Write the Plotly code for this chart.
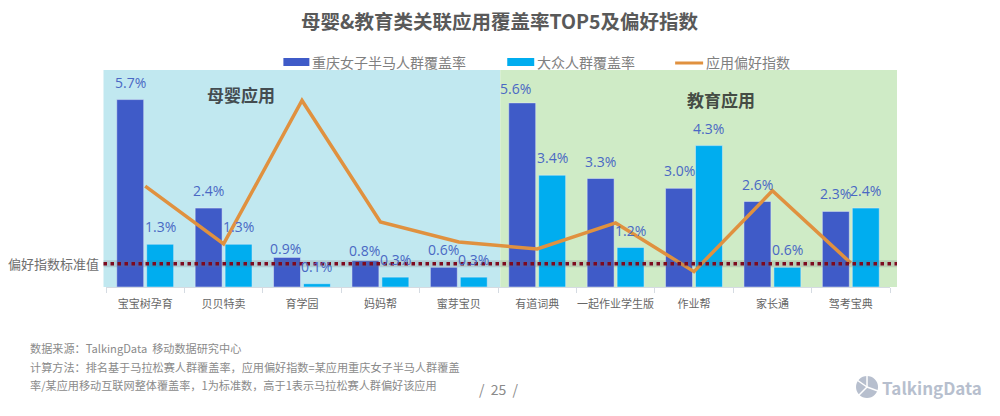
import plotly.graph_objects as go

# values
categories = ['宝宝树孕育', '贝贝特卖', '育学园', '妈妈帮', '蜜芽宝贝',
              '有道词典', '一起作业学生版', '作业帮', '家长通', '驾考宝典']
women_cover = [5.7, 2.4, 0.9, 0.8, 0.6, 5.6, 3.3, 3.0, 2.6, 2.3]
public_cover = [1.3, 1.3, 0.1, 0.3, 0.3, 3.4, 1.2, 4.3, 0.6, 2.4]
pref_index = [4.33, 1.85, 8.0, 2.79, 1.93, 1.63, 2.75, 0.66, 4.13, 1.03]
standard_value = 1
series_names = ['重庆女子半马人群覆盖率', '大众人群覆盖率', '应用偏好指数']
title_text = '母婴&教育类关联应用覆盖率TOP5及偏好指数'
footer_lines = ['数据来源：TalkingData  移动数据研究中心',
                '计算方法：排名基于马拉松赛人群覆盖率，应用偏好指数=某应用重庆女子半马人群覆盖',
                '率/某应用移动互联网整体覆盖率，1为标准数，高于1表示马拉松赛人群偏好该应用']

FONT = 'Noto Sans CJK SC'
LEFT, RIGHT, TOP, BOTTOM = 105.5, 890, 70, 287
W, H = 1000, 416
SLOT = (RIGHT - LEFT) / len(categories) * 0.382
BLUE, CYAN, ORANGE = '#3f5bc8', '#00adef', '#e0913f'


# pixel position to paper coordinates
def px(x):
    return (x - LEFT) / (RIGHT - LEFT)


def py(y):
    return (BOTTOM - y) / (BOTTOM - TOP)


fig = go.Figure()
fig.add_trace(go.Bar(x=categories, y=women_cover, name=series_names[0], marker_color=BLUE))
fig.add_trace(go.Bar(x=categories, y=public_cover, name=series_names[1], marker_color=CYAN))
fig.add_trace(go.Scatter(x=categories, y=pref_index, name=series_names[2], yaxis='y2', mode='lines',
                         line=dict(color=ORANGE, width=3.5)))

# background panels
fig.add_shape(type='rect', xref='paper', yref='paper', x0=px(103), x1=px(500), y0=0, y1=1,
              fillcolor='#c1e8f0', line_width=0, layer='below')
fig.add_shape(type='rect', xref='paper', yref='paper', x0=px(500), x1=px(897), y0=0, y1=1,
              fillcolor='#cfebc6', line_width=0, layer='below')

# standard value line, with a soft shadow under it
fig.add_shape(type='line', xref='paper', yref='y2', x0=px(103), x1=px(897), y0=standard_value, y1=standard_value,
              line=dict(color='rgba(110,110,120,0.22)', width=7))
fig.add_shape(type='line', xref='paper', yref='y2', x0=px(103), x1=px(897), y0=standard_value, y1=standard_value,
              line=dict(color='#7d0a1e', width=3.5, dash='dot'))


def note(text, x, y, size, color, bold=False, anchor='center'):
    if bold:
        text = f'<b>{text}</b>'
    fig.add_annotation(text=text, xref='paper', yref='paper', x=px(x), y=py(y), showarrow=False,
                       xanchor=anchor, yanchor='middle', font=dict(family=FONT, size=size, color=color))


# data labels, a few were moved in the original so they need a nudge
nudge_women = {2: (-2, -9), 3: (-1, -7), 5: (-7, -3)}
for i, cat in enumerate(categories):
    for vals, side, nudges in ((women_cover, -1, nudge_women), (public_cover, 1, {})):
        dx, dy = nudges.get(i, (0, 0))
        fig.add_annotation(text=f'{vals[i]:.1f}%', x=cat, y=vals[i], xref='x', yref='y', showarrow=False,
                           xshift=side * SLOT / 2 + dx, yshift=17.5 + dy, yanchor='middle',
                           font=dict(family='Open Sans', size=14, color='#4a68c4'))

note(title_text, 500, 21, 19.5, '#595959', bold=True)
note('母婴应用', 241, 94, 17, '#444c50', bold=True)
note('教育应用', 721, 99, 17, '#444c44', bold=True)
note('偏好指数标准值', 5, 263, 13, '#6e6e6e', anchor='left')
note(footer_lines[0], 27.5, 348, 11.15, '#8a8a8a', anchor='left')
note(footer_lines[1], 27.5, 367, 11.15, '#8a8a8a', anchor='left')
note(footer_lines[2], 27.5, 385, 11.15, '#8a8a8a', anchor='left')
note('/  25  /', 499, 389, 14, '#8a8a8a')

# legend, the swatches are wider than what the plotly legend draws
fig.add_shape(type='rect', xref='paper', yref='paper', x0=px(283), x1=px(309), y0=py(66), y1=py(58),
              fillcolor=BLUE, line_width=0)
fig.add_shape(type='rect', xref='paper', yref='paper', x0=px(507), x1=px(534), y0=py(66), y1=py(58),
              fillcolor=CYAN, line_width=0)
fig.add_shape(type='line', xref='paper', yref='paper', x0=px(675), x1=px(703), y0=py(63), y1=py(63),
              line=dict(color=ORANGE, width=3))
note(series_names[0], 310, 62, 14, '#808080', anchor='left')
note(series_names[1], 535, 62, 14, '#808080', anchor='left')
note(series_names[2], 704, 62, 14, '#808080', anchor='left')

# logo
note('TalkingData', 932, 387, 17, '#b7bfce', bold=True)
fig.add_shape(type='circle', xref='paper', yref='paper', x0=px(856), x1=px(878), y0=py(398), y1=py(376),
              fillcolor='#b7bfce', line_width=0)
for x0, y0, x1, y1 in ((867, 387, 867, 375), (867, 387, 878, 391), (867, 387, 858, 396), (867, 387, 857, 380)):
    fig.add_shape(type='line', xref='paper', yref='paper', x0=px(x0), x1=px(x1), y0=py(y0), y1=py(y1),
                  line=dict(color='white', width=1.5))

fig.update_layout(
    width=W, height=H,
    margin=dict(l=LEFT, r=W - RIGHT, t=TOP, b=H - BOTTOM),
    paper_bgcolor='white', plot_bgcolor='rgba(0,0,0,0)',
    barmode='group', bargap=0.236, bargroupgap=0.1,
    font=dict(family=FONT, color='#808080'),
    showlegend=False,
    xaxis=dict(type='category', showline=True, linecolor='#d5dbe2', ticks='outside', tickson='boundaries',
               ticklen=5, tickcolor='#d5dbe2', showgrid=False, zeroline=False, tickangle=0, ticklabelstandoff=7,
               tickfont=dict(family=FONT, size=11, color='#666666')),
    yaxis=dict(range=[0, 6.6], visible=False, showgrid=False, zeroline=False),
    yaxis2=dict(range=[0, 9.31], overlaying='y', visible=False, showgrid=False, zeroline=False),
)

fig.write_html("out.html", config=dict(displayModeBar=False), post_script="document.body.style.margin='0';")
